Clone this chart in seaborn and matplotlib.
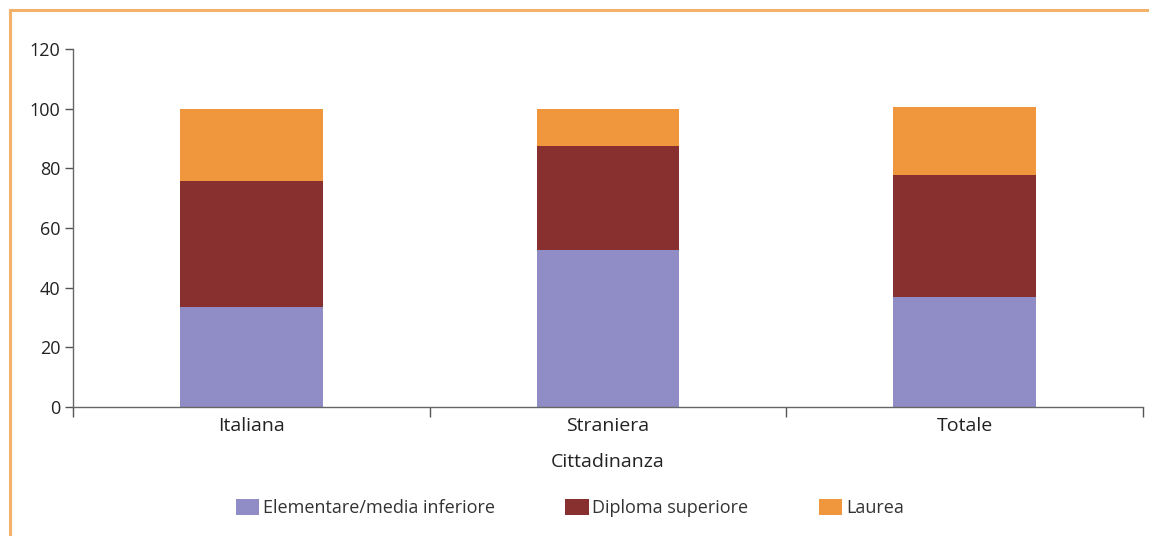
"""Stacked bar chart: titolo di studio per cittadinanza (valori percentuali)."""
import matplotlib
matplotlib.use("Agg")
import matplotlib.pyplot as plt
from matplotlib.lines import Line2D
from matplotlib.patches import Patch
import numpy as np
import pandas as pd
import seaborn as sns

CATEGORIES = ["Italiana", "Straniera", "Totale"]
LEVELS = ["Elementare/media inferiore", "Diploma superiore", "Laurea"]
ELEMENTARE = [33.5, 52.5, 36.8]
DIPLOMA = [42.4, 35.1, 40.8]
LAUREA = [24.1, 12.4, 22.8]
COLORS = ["#8f8cc6", "#88302f", "#f0963c"]
Y_TICKS = [0, 20, 40, 60, 80, 100, 120]

sns.set_theme(style="white")
plt.rcParams["font.family"] = ["Open Sans", "DejaVu Sans"]

df = pd.DataFrame({"Cittadinanza": CATEGORIES,
                   LEVELS[0]: ELEMENTARE, LEVELS[1]: DIPLOMA, LEVELS[2]: LAUREA})
cum = df[LEVELS].cumsum(axis=1)

fig = plt.figure(figsize=(11.49, 5.36), dpi=100)
ax = fig.add_axes([73 / 1149, 1 - 407 / 536, 1070 / 1149, 358 / 536])

# draw the cumulative tops from highest down so each level covers the previous
for level, color in reversed(list(zip(LEVELS, COLORS))):
    sns.barplot(x=df["Cittadinanza"], y=cum[level], color=color, width=0.4,
                saturation=1, edgecolor="none", ax=ax)

ax.set_xlim(-0.5, len(CATEGORIES) - 0.5)
ax.set_ylim(0, 120)
ax.set_yticks(Y_TICKS)
ax.set_xticks(range(len(CATEGORIES)))
ax.set_xticks(np.arange(-0.5, len(CATEGORIES)), minor=True)
ax.tick_params(left=True, bottom=True)
ax.tick_params(axis="x", which="major", length=0, labelsize=14, pad=7, labelcolor="#222222")
ax.tick_params(axis="x", which="minor", bottom=True, length=7, width=1, color="#555555",
               direction="out")
ax.tick_params(axis="y", length=6, width=1, color="#555555", direction="out",
               labelsize=13, labelcolor="#222222", pad=3)
for side in ["top", "right"]:
    ax.spines[side].set_visible(False)
for side in ["left", "bottom"]:
    ax.spines[side].set_color("#666666")
    ax.spines[side].set_linewidth(1)
ax.set_xlabel("Cittadinanza", fontsize=14, labelpad=13, color="#222222")
ax.set_ylabel("")

handles = [Patch(facecolor=c, edgecolor="none", label=l) for l, c in zip(LEVELS, COLORS)]
fig.legend(handles=handles, loc="center", bbox_to_anchor=(0.496, 1 - 508 / 536), ncol=3,
           frameon=False, fontsize=13, handlelength=1.3, handleheight=1.0,
           handletextpad=0.2, columnspacing=3.9, labelcolor="#333333")

# orange frame around the figure (top and left edges visible)
frame = "#f2b26a"
fig.add_artist(Line2D([10 / 1149, 1], [1 - 10 / 536] * 2, color=frame, lw=2.2,
                      transform=fig.transFigure))
fig.add_artist(Line2D([10 / 1149] * 2, [0, 1 - 10 / 536], color=frame, lw=2.2,
                      transform=fig.transFigure))

fig.savefig("out.png", dpi=100)
